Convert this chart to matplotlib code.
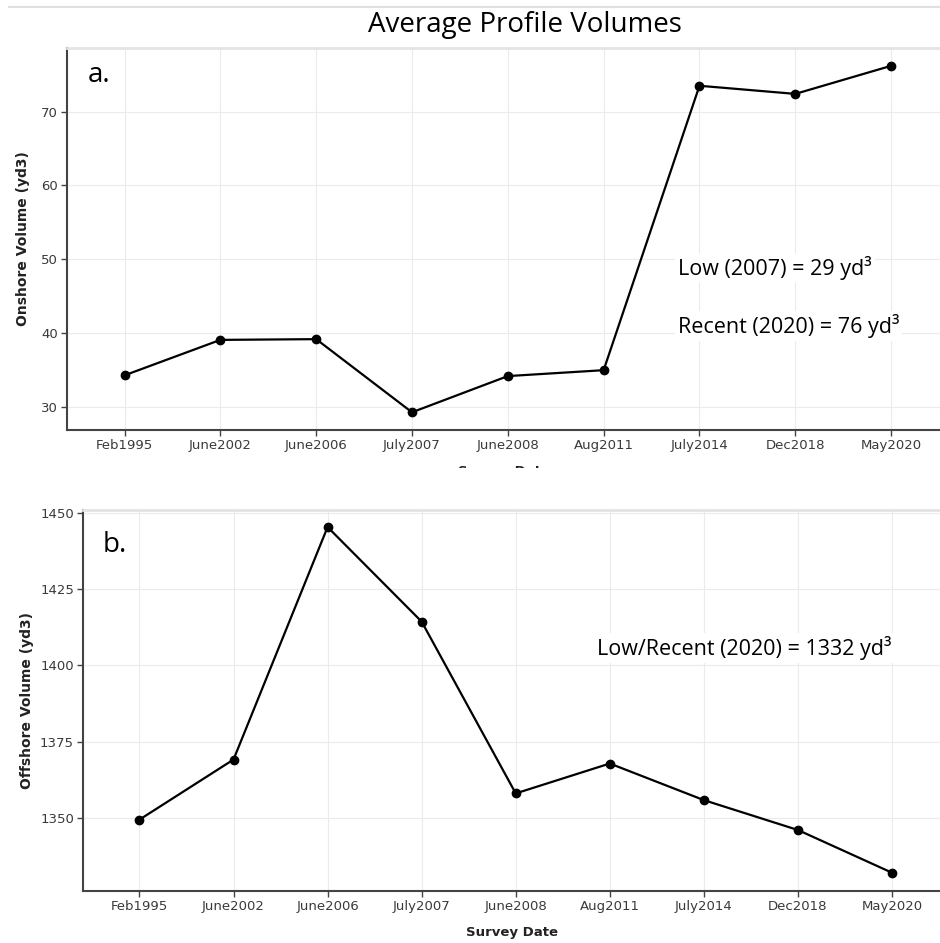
import matplotlib
matplotlib.use("Agg")
import matplotlib.pyplot as plt
from matplotlib.lines import Line2D
from matplotlib.patches import Rectangle

# ── data ─────────────────────────────────────────────────────────────────────
survey_dates = ["Feb1995", "June2002", "June2006", "July2007", "June2008",
                "Aug2011", "July2014", "Dec2018", "May2020"]
onshore_vol  = [34.3, 39.1, 39.2, 29.3, 34.2, 35.0, 73.5, 72.4, 76.2]
offshore_vol = [1349.4, 1369.1, 1445.3, 1414.3, 1358.0, 1367.8, 1355.8, 1346.0, 1332.0]

onshore_yticks  = [30, 40, 50, 60, 70]
offshore_yticks = [1350, 1375, 1400, 1425, 1450]

TICK_FONT = ["DejaVu Sans"]
NOTE_FONT = ["Open Sans", "DejaVu Sans"]


def style_axes(ax, yticks, ylabel, xlabel, ylabelpad):
    x = range(len(survey_dates))
    ax.set_xticks(list(x))
    ax.set_xticklabels(survey_dates, fontsize=9.5, color="#3a3a3a", family=TICK_FONT)
    ax.set_yticks(yticks)
    ax.set_yticklabels([str(v) for v in yticks], fontsize=9.5, color="#3a3a3a",
                       family=TICK_FONT)
    ax.set_xlim(-0.6, len(survey_dates) - 1 + 0.51)
    ax.grid(True, color="#ebebeb", lw=0.8)
    ax.set_axisbelow(True)
    ax.spines["right"].set_visible(False)
    ax.spines["top"].set_color("#e3e3e3")
    ax.spines["top"].set_linewidth(2.0)
    for side in ("left", "bottom"):
        ax.spines[side].set_color("#444444")
        ax.spines[side].set_linewidth(1.5)
    ax.tick_params(direction="out", length=4, width=1, color="#444444", pad=2.5)
    ax.set_ylabel(ylabel, fontsize=10, fontweight="bold", color="#222222",
                  labelpad=ylabelpad)
    ax.set_xlabel(xlabel, fontsize=9.5, fontweight="bold", color="#222222",
                  labelpad=9)


fig = plt.figure(figsize=(9.4, 9.43), dpi=100)
ax_a = fig.add_axes([0.0713, 0.544, 0.9287, 0.405])
ax_b = fig.add_axes([0.0883, 0.0551, 0.9117, 0.4041])
ax_b.set_zorder(2)

# Panel a: onshore
ax_a.plot(range(len(survey_dates)), onshore_vol, color="black", lw=1.6,
          marker="o", markersize=6)
ax_a.set_ylim(26.9, 78.6)
style_axes(ax_a, onshore_yticks, "Onshore Volume (yd3)", "Survey Date", 8)
ax_a.text(0.024, 0.93, "a.", transform=ax_a.transAxes, fontsize=20,
          va="center", ha="left", family=NOTE_FONT)
ax_a.text(0.70, 0.424, "Low (2007) = 29 yd³", transform=ax_a.transAxes,
          fontsize=15.5, va="center", ha="left", family=NOTE_FONT,
          bbox=dict(facecolor="white", edgecolor="none", pad=2))
ax_a.text(0.70, 0.272, "Recent (2020) = 76 yd³", transform=ax_a.transAxes,
          fontsize=15.5, va="center", ha="left", family=NOTE_FONT,
          bbox=dict(facecolor="white", edgecolor="none", pad=2))

# white band of panel b hides most of panel a's x label, as in the source
fig.add_artist(Rectangle((0, 0), 1, 0.5042, transform=fig.transFigure,
                         facecolor="white", edgecolor="none", zorder=1))

# Panel b: offshore
ax_b.plot(range(len(survey_dates)), offshore_vol, color="black", lw=1.6,
          marker="o", markersize=6)
ax_b.set_ylim(1326, 1450.9)
style_axes(ax_b, offshore_yticks, "Offshore Volume (yd3)", "Survey Date", 4.5)
ax_b.text(0.023, 0.908, "b.", transform=ax_b.transAxes, fontsize=20,
          va="center", ha="left", family=NOTE_FONT)
ax_b.text(0.60, 0.638, "Low/Recent (2020) = 1332 yd³", transform=ax_b.transAxes,
          fontsize=15.5, va="center", ha="left", family=NOTE_FONT,
          bbox=dict(facecolor="white", edgecolor="none", pad=2))

fig.text(0.558, 0.973, "Average Profile Volumes", fontsize=20, ha="center",
         va="center", family=NOTE_FONT)
fig.add_artist(Line2D([0.01, 1.0], [0.993, 0.993], transform=fig.transFigure,
                      color="#e0e0e0", lw=1.5))

fig.savefig("out.png", dpi=100)
